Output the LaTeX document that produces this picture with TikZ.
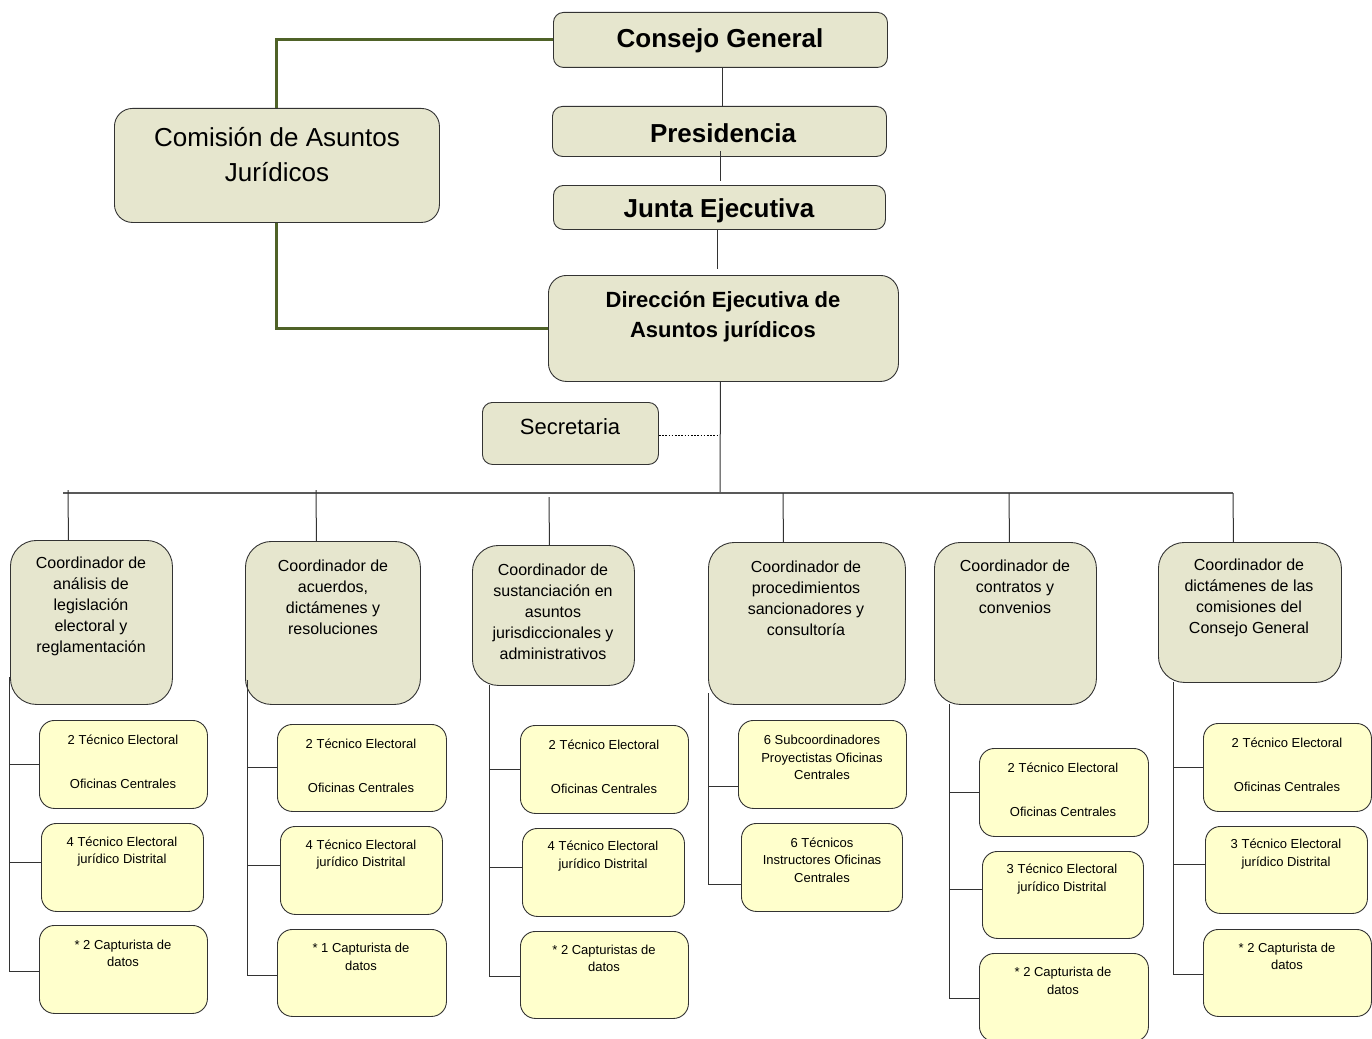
\documentclass[tikz,border=0pt]{standalone}
\usepackage{fontspec}
\setmainfont{Liberation Sans}
\usetikzlibrary{calc}
\definecolor{boxtan}{RGB}{230,230,206}
\definecolor{boxyel}{RGB}{255,255,204}
\definecolor{linkgreen}{RGB}{79,98,40}
\tikzset{
  topbox/.style={draw=black!80, fill=boxtan, rounded corners=10pt, line width=0.9pt},
  midbox/.style={draw=black!80, fill=boxtan, rounded corners=18pt, line width=0.9pt},
  coordbox/.style={draw=black!80, fill=boxtan, rounded corners=26pt, line width=0.9pt},
  subbox/.style={draw=black!80, fill=boxyel, rounded corners=15pt, line width=0.9pt},
  conn/.style={draw=black!80, line width=1pt},
  busline/.style={draw=black!65, line width=1.4pt},
  greenlink/.style={draw=linkgreen, line width=3pt},
  dotlink/.style={draw=black, line width=1pt, dash pattern=on 1.6pt off 1.6pt},
  ttop/.style={font=\fontsize{26}{30}\selectfont\bfseries, align=center, inner sep=0pt},
  tdir/.style={font=\fontsize{22}{30}\selectfont\bfseries, align=center, inner sep=0pt},
  tcom/.style={font=\fontsize{26}{35}\selectfont, align=center, inner sep=0pt},
  tsec/.style={font=\fontsize{22}{26}\selectfont, align=center, inner sep=0pt},
  tcoord/.style={font=\fontsize{16}{21}\selectfont, align=center, inner sep=0pt},
  tsub/.style={font=\fontsize{13}{17.5}\selectfont, align=center, inner sep=0pt},
}
\newcommand\mkbox[6]{%
  \pgfmathsetmacro\bw{#5-#3}\pgfmathsetmacro\bh{#6-#4}%
  \node[#1, anchor=north west, minimum width=\bw pt, minimum height=\bh pt, inner sep=0pt] (#2) at (#3,#4) {};}
\begin{document}
\begin{tikzpicture}[x=1pt,y=-1pt]
\useasboundingbox (0,0) rectangle (1372,1038);

% top boxes
\mkbox{topbox}{cg}{553}{12}{887}{67}
\mkbox{topbox}{pres}{552}{106}{886}{156}
\mkbox{topbox}{junta}{553}{185}{885}{229}
\mkbox{midbox}{dir}{548}{275}{898}{381}
\mkbox{midbox}{com}{114}{108}{439}{222}
\mkbox{topbox}{sec}{482}{402}{658}{464}

% coordinators
\mkbox{coordbox}{c1}{10}{540}{172}{704}
\mkbox{coordbox}{c2}{245}{541}{420}{704}
\mkbox{coordbox}{c3}{472}{545}{634}{685}
\mkbox{coordbox}{c4}{708}{542}{905}{704}
\mkbox{coordbox}{c5}{934}{542}{1096}{704}
\mkbox{coordbox}{c6}{1158}{542}{1341}{682}

% sub boxes
\mkbox{subbox}{s11}{39}{720}{207}{808}
\mkbox{subbox}{s12}{41}{823}{203}{911}
\mkbox{subbox}{s13}{39}{925}{207}{1013}
\mkbox{subbox}{s21}{277}{724}{446}{811}
\mkbox{subbox}{s22}{280}{826}{442}{914}
\mkbox{subbox}{s23}{277}{929}{446}{1016}
\mkbox{subbox}{s31}{520}{725}{688}{813}
\mkbox{subbox}{s32}{522}{828}{684}{916}
\mkbox{subbox}{s33}{520}{931}{688}{1018}
\mkbox{subbox}{s41}{738}{720}{906}{808}
\mkbox{subbox}{s42}{741}{823}{902}{911}
\mkbox{subbox}{s51}{979}{748}{1148}{836}
\mkbox{subbox}{s52}{982}{851}{1143}{938}
\mkbox{subbox}{s53}{979}{953}{1148}{1041}
\mkbox{subbox}{s61}{1203}{723}{1371}{811}
\mkbox{subbox}{s62}{1205}{826}{1367}{913}
\mkbox{subbox}{s63}{1203}{929}{1371}{1016}

% texts
\node[ttop] (cgt) at (720,41) {Consejo General};
\node[ttop] (prest) at (723,133) {Presidencia};
\node[ttop] (juntat) at (719,211) {Junta Ejecutiva};
\node[tdir] (dirt) at (723,317) {Dirección Ejecutiva de\\Asuntos jurídicos};
\node[tcom] (comt) at (277,155) {Comisión de Asuntos\\Jurídicos};
\node[tsec] (sect) at (570,427) {Secretaria};

\node[tcoord] (c1t) at (91,606) {Coordinador de\\análisis de\\legislación\\electoral y\\reglamentación};
\node[tcoord] (c2t) at (333,597.5) {Coordinador de\\acuerdos,\\dictámenes y\\resoluciones};
\node[tcoord] (c3t) at (553,611.5) {Coordinador de\\sustanciación en\\asuntos\\jurisdiccionales y\\administrativos};
\node[tcoord] (c4t) at (806,598.5) {Coordinador de\\procedimientos\\sancionadores y\\consultoría};
\node[tcoord] (c5t) at (1015,587) {Coordinador de\\contratos y\\convenios};
\node[tcoord] (c6t) at (1249,597.5) {Coordinador de\\dictámenes de las\\comisiones del\\Consejo General};

\node[tsub] (s11t) at (123,762) {2 Técnico Electoral\\[26.5pt]Oficinas Centrales};
\node[tsub] (s12t) at (122,851.5) {4 Técnico Electoral\\jurídico Distrital};
\node[tsub] (s13t) at (123,953.5) {* 2 Capturista de\\datos};
\node[tsub] (s21t) at (361,765.5) {2 Técnico Electoral\\[26.5pt]Oficinas Centrales};
\node[tsub] (s22t) at (361,854.5) {4 Técnico Electoral\\jurídico Distrital};
\node[tsub] (s23t) at (361,957) {* 1 Capturista de\\datos};
\node[tsub] (s31t) at (604,767) {2 Técnico Electoral\\[26.5pt]Oficinas Centrales};
\node[tsub] (s32t) at (603,856) {4 Técnico Electoral\\jurídico Distrital};
\node[tsub] (s33t) at (604,958.5) {* 2 Capturistas de\\datos};
\node[tsub] (s41t) at (822,757.5) {6 Subcoordinadores\\Proyectistas Oficinas\\Centrales};
\node[tsub] (s42t) at (822,860) {6 Técnicos\\Instructores Oficinas\\Centrales};
\node[tsub] (s51t) at (1063,789.5) {2 Técnico Electoral\\[26.5pt]Oficinas Centrales};
\node[tsub] (s52t) at (1062,879) {3 Técnico Electoral\\jurídico Distrital};
\node[tsub] (s53t) at (1063,981) {* 2 Capturista de\\datos};
\node[tsub] (s61t) at (1287,765) {2 Técnico Electoral\\[26.5pt]Oficinas Centrales};
\node[tsub] (s62t) at (1286,854) {3 Técnico Electoral\\jurídico Distrital};
\node[tsub] (s63t) at (1287,956.5) {* 2 Capturista de\\datos};

% green links
\draw[greenlink] (cg.west) -| (com.north);
\draw[greenlink] (com.south) |- (dir.west);

% vertical chain
\draw[conn] ([xshift=2pt]cg.south) -- ([xshift=2pt]cg.south |- pres.north);
\draw[conn] ([xshift=1pt,yshift=6pt]pres.south) -- ([xshift=1pt,yshift=4pt]pres.south |- junta.north);
\draw[conn] ([xshift=-2pt]junta.south) -- ++(0pt,-39pt);
\coordinate (busL) at (63,493);
\coordinate (busR) at (1233,493);
\coordinate (busM) at (720,493);
\draw[conn] ([xshift=-3pt]dir.south) -- (busM);
\draw[dotlink] ([yshift=-2pt]sec.east) -- ++(59pt,0pt);
\draw[busline] (busL) -- (busR);

% drops
\coordinate (d1) at (68,490);
\coordinate (d2) at (316,490);
\coordinate (d3) at (549,497);
\coordinate (d4) at (783,493);
\coordinate (d5) at (1009,493);
\draw[conn] (d1) -- ([xshift=-23pt]c1.north);
\draw[conn] (d2) -- ([xshift=-16.5pt]c2.north);
\draw[conn] (d3) -- ([xshift=-4pt]c3.north);
\draw[conn] (d4) -- ([xshift=-23.5pt]c4.north);
\draw[conn] (d5) -- ([xshift=-6pt]c5.north);
\draw[conn] (busR) -- ([xshift=-16.5pt]c6.north);

% side lines
\coordinate (v1) at (9,677);
\coordinate (v2) at (247,680);
\coordinate (v3) at (489,685);
\coordinate (v4) at (708,693);
\coordinate (v5) at (949,704);
\coordinate (v6) at (1173,682);
\draw[conn] (v1) |- (s11.west);
\draw[conn] (v1) |- ([yshift=5pt]s12.west);
\draw[conn] (v1) |- ([yshift=-2pt]s13.west);
\draw[conn] (v2) |- (s21.west);
\draw[conn] (v2) |- ([yshift=5pt]s22.west);
\draw[conn] (v2) |- ([yshift=-2.5pt]s23.west);
\draw[conn] (v3) |- (s31.west);
\draw[conn] (v3) |- ([yshift=5pt]s32.west);
\draw[conn] (v3) |- ([yshift=-1.5pt]s33.west);
\draw[conn] (v4) |- ([yshift=-22pt]s41.west);
\draw[conn] (v4) |- ([yshift=-17pt]s42.west);
\draw[conn] (v5) |- (s51.west);
\draw[conn] (v5) |- ([yshift=5.5pt]s52.west);
\draw[conn] (v5) |- ([yshift=-1pt]s53.west);
\draw[conn] (v6) |- (s61.west);
\draw[conn] (v6) |- ([yshift=5.5pt]s62.west);
\draw[conn] (v6) |- ([yshift=-1.5pt]s63.west);
\end{tikzpicture}
\end{document}
